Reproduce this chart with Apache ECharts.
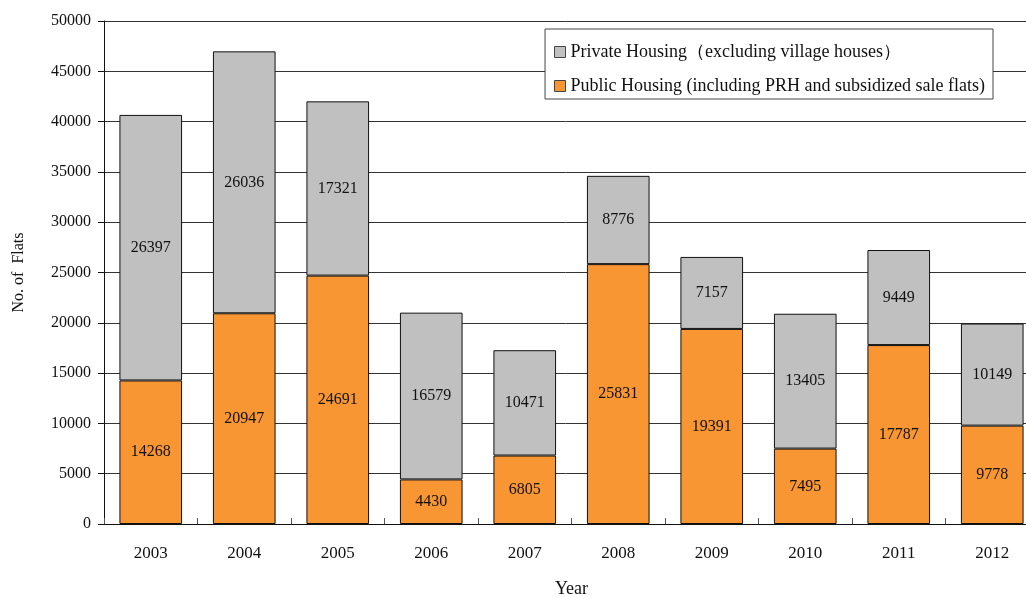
<!DOCTYPE html>
<html>
<head>
<meta charset="utf-8">
<script src="https://cdn.jsdelivr.net/npm/echarts@6/dist/echarts.min.js"></script>
<style>
html, body { margin: 0; padding: 0; background: #fff; }
#main { width: 1026px; height: 597px; }
</style>
</head>
<body>
<div id="main"></div>
<script>
var years = ['2003', '2004', '2005', '2006', '2007', '2008', '2009', '2010', '2011', '2012'];
var publicFlats = [14268, 20947, 24691, 4430, 6805, 25831, 19391, 7495, 17787, 9778];
var privateFlats = [26397, 26036, 17321, 16579, 10471, 8776, 7157, 13405, 9449, 10149];
var seriesNames = ['Private Housing（excluding village houses）', 'Public Housing (including PRH and subsidized sale flats)'];

var serif = "'Liberation Serif', 'Times New Roman', serif";
var chart = echarts.init(document.getElementById('main'));

function makeSeries(name, data, color) {
	return {
		name: name,
		type: 'bar',
		stack: 'total',
		data: data,
		barCategoryGap: '33%',
		itemStyle: {
			color: color,
			borderColor: '#111',
			borderWidth: 1
		},
		label: {
			show: true,
			position: 'inside',
			color: '#111',
			fontFamily: serif,
			fontSize: 16
		}
	};
}

chart.setOption({
	animation: false,
	grid: {
		left: 104,
		top: 21,
		width: 935,
		height: 503,
		outerBoundsMode: 'none',
		containLabel: false
	},
	legend: {
		orient: 'vertical',
		right: 33,
		top: 29,
		data: [seriesNames[0], seriesNames[1]],
		backgroundColor: '#fff',
		borderColor: '#444',
		borderWidth: 1,
		padding: [14, 8, 4, 9],
		itemGap: 16,
		itemWidth: 11,
		itemHeight: 11,
		icon: 'rect',
		itemStyle: { borderColor: '#444', borderWidth: 1 },
		textStyle: { fontFamily: serif, fontSize: 18, color: '#111' }
	},
	xAxis: {
		type: 'category',
		data: years,
		name: 'Year',
		nameLocation: 'middle',
		nameGap: 56,
		nameTextStyle: { fontFamily: serif, fontSize: 18, color: '#111' },
		axisLine: { lineStyle: { color: '#111', width: 1 } },
		axisTick: { show: true, inside: true, length: 6, lineStyle: { color: '#555' } },
		axisLabel: { fontFamily: serif, fontSize: 17, color: '#111', margin: 21 }
	},
	yAxis: {
		type: 'value',
		min: 0,
		max: 50000,
		interval: 5000,
		name: 'No. of  Flats',
		nameLocation: 'middle',
		nameRotate: 90,
		nameGap: 77,
		nameTextStyle: { fontFamily: serif, fontSize: 16, color: '#111' },
		axisLine: { show: true, lineStyle: { color: '#111', width: 1 } },
		axisTick: { show: true, length: 6, lineStyle: { color: '#111' } },
		axisLabel: {
			fontFamily: serif, fontSize: 16, color: '#111', margin: 13,
			formatter: function(v) { return String(v); }
		},
		splitLine: { lineStyle: { color: '#333', width: 1 } }
	},
	series: [
		makeSeries(seriesNames[1], publicFlats, '#F79633'),
		makeSeries(seriesNames[0], privateFlats, '#C0C0C0')
	]
});
</script>
</body>
</html>
